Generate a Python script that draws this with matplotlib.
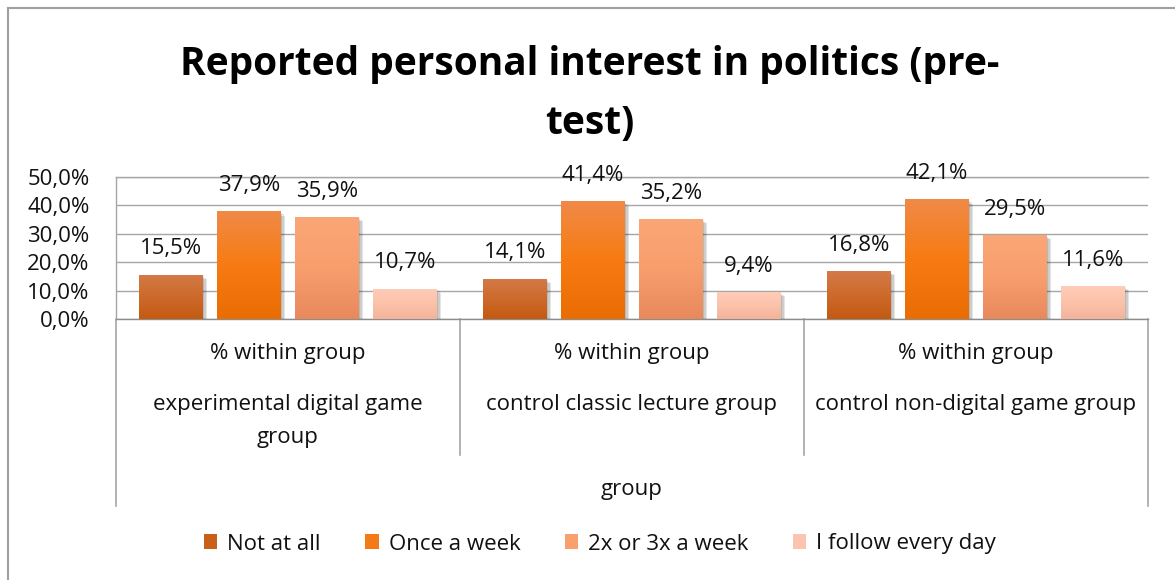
import numpy as np
import matplotlib
matplotlib.use("Agg")
import matplotlib.pyplot as plt
from matplotlib.colors import LinearSegmentedColormap
from matplotlib.patches import Rectangle
from matplotlib.lines import Line2D
from matplotlib import patheffects as pe
import matplotlib.transforms as mtransforms

# ---- data -------------------------------------------------------------
groups = ["experimental digital game\ngroup",
          "control classic lecture group",
          "control non-digital game group"]
measure_label = "% within group"
axis_title = "group"
answers = ["Not at all", "Once a week", "2x or 3x a week", "I follow every day"]
not_at_all = [15.5, 14.1, 16.8]
once_a_week = [37.9, 41.4, 42.1]
two_three_a_week = [35.9, 35.2, 29.5]
every_day = [10.7, 9.4, 11.6]
y_ticks = [0, 10, 20, 30, 40, 50]
title = "Reported personal interest in politics (pre-\ntest)"

series = [not_at_all, once_a_week, two_three_a_week, every_day]

# gradient stops (top, middle, bottom) for each series, plus legend swatch colour
gradients = [
    ["#d47a48", "#cd6a2c", "#c45a10"],
    ["#f08a48", "#f77b12", "#e96d03"],
    ["#fba676", "#f89e6d", "#e8895c"],
    ["#ffccb8", "#fcc2aa", "#f3b39a"],
]
swatches = ["#c9601a", "#f47a15", "#f9a06f", "#fbc4ae"]

FS = 16
plt.rcParams["font.family"] = ["Open Sans", "DejaVu Sans"]

W, H = 1175, 580
fig = plt.figure(figsize=(W / 100, H / 100), dpi=100)
fig.patch.set_facecolor("white")

left_px, right_px, top_px, bottom_px = 116, 1148, 177, 319
ax = fig.add_axes([left_px / W, 1 - bottom_px / H,
                   (right_px - left_px) / W, (bottom_px - top_px) / H])

n_groups = len(groups)
cat_x = np.arange(n_groups)
bar_w = 64 / 344
step = 78 / 344
offsets = (np.arange(len(series)) - (len(series) - 1) / 2) * step

ax.set_xlim(-0.5, n_groups - 0.5)
ax.set_ylim(0, 50)
ax.set_autoscale_on(False)

shadow = [pe.SimplePatchShadow(offset=(o, -o), shadow_rgbFace="black", alpha=0.10)
          for o in (1, 2, 3)] + [pe.Normal()]

for s, (vals, stops) in enumerate(zip(series, gradients)):
    cmap = LinearSegmentedColormap.from_list(f"g{s}", stops[::-1])
    bars = ax.bar(cat_x + offsets[s], vals, width=bar_w, color=stops[1],
                  linewidth=0, zorder=3)
    for rect, v in zip(bars, vals):
        rect.set_path_effects(shadow)
        x0 = rect.get_x()
        grad = np.linspace(0, 1, 256).reshape(-1, 1)
        im = ax.imshow(grad, cmap=cmap, origin="lower", aspect="auto",
                       extent=[x0, x0 + bar_w, 0, v], zorder=4,
                       interpolation="bilinear")
        im.set_clip_path(rect)
        ax.annotate(f"{v:.1f}%".replace(".", ","), (x0 + bar_w / 2, v),
                    xytext=(0, 26), textcoords="offset pixels",
                    ha="center", va="center", fontsize=FS, color="#111111",
                    zorder=5)

# axes frame, grid and ticks
ax.set_yticks(y_ticks)
ax.set_yticklabels([f"{t:.1f}%".replace(".", ",") for t in y_ticks],
                   fontsize=FS, color="#111111")
ax.tick_params(axis="y", length=0, pad=19)
ax.set_xticks([])
ax.yaxis.grid(True, color="#a6a6a6", linewidth=1.0)
ax.set_axisbelow(True)
ax.spines["right"].set_visible(False)
ax.spines["top"].set_color("#a6a6a6")
ax.spines["left"].set_color("#a6a6a6")
ax.spines["bottom"].set_color("#8c8c8c")
for sp in ax.spines.values():
    sp.set_linewidth(1.0)

# multi-level category axis below the plot
tr = mtransforms.blended_transform_factory(ax.transData, ax.transAxes)
px_h = bottom_px - top_px
for b in np.arange(n_groups + 1) - 0.5:
    depth = (506 - bottom_px) if b in (-0.5, n_groups - 0.5) else (455 - bottom_px)
    ax.add_line(Line2D([b, b], [0, -depth / px_h], transform=tr,
                       color="#a6a6a6", linewidth=1.2, clip_on=False))

for i, g in enumerate(groups):
    ax.text(i, -(353 - bottom_px) / px_h, measure_label, transform=tr,
            ha="center", va="center", fontsize=FS, color="#111111")
    for k, line in enumerate(g.split("\n")):
        ax.text(i, -(405 + 33 * k - bottom_px) / px_h, line, transform=tr,
                ha="center", va="center", fontsize=FS, color="#111111")
ax.text(0.5, -(490 - bottom_px) / px_h, axis_title, transform=ax.transAxes,
        ha="center", va="center", fontsize=FS, color="#111111")

# title
fig.text(590 / W, 1 - 94 / H, title, ha="center", va="center",
         fontsize=28, fontweight="bold", color="black", linespacing=1.68)

# legend
handles = [Rectangle((0, 0), 1, 1, facecolor=c, edgecolor="none") for c in swatches]
fig.legend(handles, answers, loc="center", bbox_to_anchor=(600 / W, 1 - 544 / H),
           ncol=4, frameon=False, fontsize=FS, handlelength=0.6,
           handleheight=0.62, handletextpad=0.45, columnspacing=2.0,
           labelcolor="#111111")

# chart border (top and left edges)
fig.add_artist(Line2D([7.5 / W, 7.5 / W], [0, 1 - 7.5 / H], transform=fig.transFigure,
                      color="#a0a0a0", linewidth=1.5))
fig.add_artist(Line2D([7.5 / W, 1], [1 - 7.5 / H, 1 - 7.5 / H], transform=fig.transFigure,
                      color="#a0a0a0", linewidth=1.5))

fig.savefig("out.png", dpi=100, facecolor="white")
